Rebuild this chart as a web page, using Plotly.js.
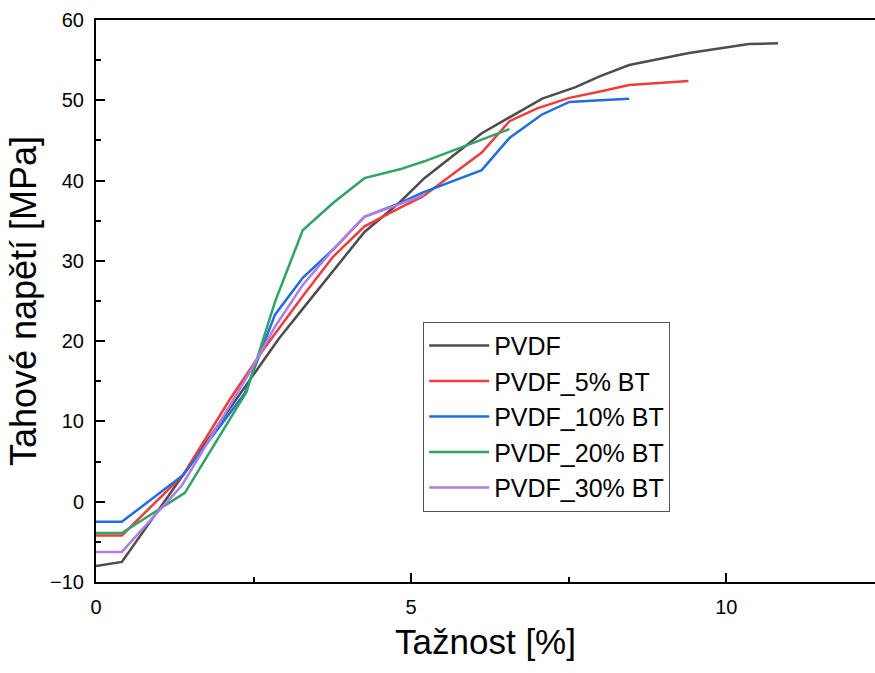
<!DOCTYPE html>
<html>
<head>
<meta charset="utf-8">
<script src="https://cdn.plot.ly/plotly-3.0.1.min.js"></script>
<style>html,body{margin:0;padding:0;background:#fff;}#chart{width:875px;height:673px;}</style>
</head>
<body>
<div id="chart"></div>
<script>
const seriesNames = ["PVDF", "PVDF_5% BT", "PVDF_10% BT", "PVDF_20% BT", "PVDF_30% BT"];

const pvdfX = [0, 0.41, 1.38, 2.4, 2.9, 3.4, 3.8, 4.26, 4.82, 5.21, 6.12, 6.56, 7.08, 7.6, 8.0, 8.46, 9.41, 10.36, 10.82];
const pvdfY = [-8.0, -7.5, 3.3, 14.8, 20.3, 25.2, 29.1, 33.6, 37.3, 40.3, 45.9, 47.9, 50.2, 51.6, 53.0, 54.4, 55.9, 57.0, 57.1];

const bt5X = [0, 0.41, 1.38, 2.12, 2.65, 3.3, 3.76, 4.26, 4.82, 5.18, 6.12, 6.56, 7.0, 7.51, 8.0, 8.46, 9.4];
const bt5Y = [-4.2, -4.2, 3.3, 12.7, 18.9, 25.8, 30.5, 34.3, 36.6, 38.0, 43.5, 47.4, 49.0, 50.3, 51.1, 51.9, 52.4];

const bt10X = [0, 0.41, 1.38, 2.36, 2.84, 3.28, 3.8, 4.26, 4.82, 5.18, 6.12, 6.56, 7.07, 7.51, 8.0, 8.46];
const bt10Y = [-2.5, -2.5, 3.3, 13.5, 23.3, 27.9, 31.7, 35.5, 37.2, 38.5, 41.3, 45.3, 48.2, 49.8, 50.0, 50.2];

const bt20X = [0, 0.41, 1.41, 2.39, 2.84, 3.28, 3.76, 4.26, 4.82, 5.21, 6.12, 6.56];
const bt20Y = [-3.9, -3.9, 1.1, 13.7, 24.9, 33.8, 37.2, 40.3, 41.4, 42.4, 45.1, 46.4];

const bt30X = [0, 0.41, 1.36, 2.4, 2.84, 3.28, 3.76, 4.26, 4.8, 5.2];
const bt30Y = [-6.25, -6.25, 2.0, 15.6, 21.8, 27.0, 31.4, 35.5, 37.0, 38.2];

const colors = ["#4d4d4d", "#f23c3c", "#1e6ee0", "#30a462", "#b07de3"];
const xs = [pvdfX, bt5X, bt10X, bt20X, bt30X];
const ys = [pvdfY, bt5Y, bt10Y, bt20Y, bt30Y];

const traces = seriesNames.map((n, i) => ({
  x: xs[i], y: ys[i], name: n, type: "scatter", mode: "lines",
  line: {color: colors[i], width: 2.5}
}));

const font = "Liberation Sans, Arial, sans-serif";
const layout = {
  width: 875, height: 673,
  margin: {l: 96, r: 0, t: 20, b: 91},
  paper_bgcolor: "#fff", plot_bgcolor: "#fff",
  font: {family: font, color: "#000"},
  showlegend: true,
  legend: {
    x: 0.42, y: 0.463, xanchor: "left", yanchor: "top",
    bordercolor: "#555", borderwidth: 1, bgcolor: "#fff",
    font: {family: font, size: 25, color: "#000"},
    itemwidth: 60, tracegroupgap: 0
  },
  xaxis: {
    range: [0, 12.36], tickvals: [0, 5, 10], ticktext: ["0", "5", "10"],
    ticks: "inside", ticklen: 9, tickwidth: 2, tickcolor: "#000",
    minor: {tickvals: [2.5, 7.5], ticks: "inside", ticklen: 5, tickwidth: 2, tickcolor: "#000"},
    showline: true, linewidth: 2, linecolor: "#000", mirror: true,
    showgrid: false, zeroline: false,
    tickfont: {family: font, size: 20, color: "#000"},
    ticklabelstandoff: 6,
    title: {text: "Tažnost [%]", font: {family: font, size: 35, color: "#000"}, standoff: 12}
  },
  yaxis: {
    range: [-10, 60], tickvals: [-10, 0, 10, 20, 30, 40, 50, 60],
    ticks: "inside", ticklen: 9, tickwidth: 2, tickcolor: "#000",
    minor: {dtick: 5, ticks: "inside", ticklen: 5, tickwidth: 2, tickcolor: "#000"},
    showline: true, linewidth: 2, linecolor: "#000", mirror: false,
    showgrid: false, zeroline: false,
    tickfont: {family: font, size: 20, color: "#000"},
    ticklabelstandoff: 6,
    title: {text: "Tahové napětí [MPa]", font: {family: font, size: 36, color: "#000"}, standoff: 2}
  }
};

Plotly.newPlot("chart", traces, layout, {displayModeBar: false, staticPlot: true});
</script>
</body>
</html>
